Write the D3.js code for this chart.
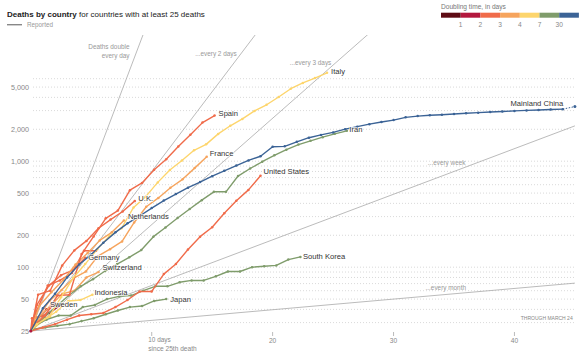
<!DOCTYPE html>
<html><head><meta charset="utf-8">
<script src="https://cdn.jsdelivr.net/npm/d3@7"></script>
<style>
body{margin:0;background:#fff;}
svg{display:block;font-family:"Liberation Sans",Arial,Helvetica,sans-serif;}
</style></head><body>
<svg id="c" width="584" height="360"></svg>
<script>
// ---------------- DATA ----------------
const legendBinLabels = ["1","2","3","4","7","30"];
const yTickValues = [25,50,100,200,500,1000,2000,5000];
const gridValues = [30,40,50,60,70,80,90,100,200,300,400,500,600,700,800,900,1000,2000,3000,4000,5000,6000];
const xTickValues = [10,20,30,40];
const refDoublingDays = [1,2,3,7,30];

const chinaDeaths = [25,41,56,80,106,132,170,213,259,304,361,425,490,563,636,722,811,908,1016,1113,1368,1380,1523,1665,1770,1868,2004,2118,2236,2345,2442,2592,2663,2715,2744,2788,2835,2870,2912,2943,2981,3012,3042,3070,3097];
const chinaLatest = 3277;
const italyDeaths = [29,34,52,79,107,148,197,233,366,463,631,827,1016,1266,1441,1809,2158,2503,2978,3405,4032,4825,5476,6077,6820];
const spainDeaths = [28,35,54,55,133,195,289,342,533,623,830,1043,1375,1772,2311,2696];
const iranDeaths = [26,34,43,54,66,77,92,107,124,145,194,237,291,354,429,514,514,724,853,988,1135,1284,1433,1556,1685,1812,1934];
const franceDeaths = [33,48,61,79,91,127,148,175,264,372,450,562,674,860,1100];
const usDeaths = [27,29,32,35,36,37,42,49,59,59,86,107,147,194,238,323,423,536,728];
const koreaDeaths = [28,32,35,35,42,44,50,53,54,60,66,66,72,75,75,82,91,91,100,102,104,118,125];
const ukDeaths = [55,60,104,144,177,233,281,335,422];
const netherlandsDeaths = [43,58,76,106,136,179,213,276];
const germanyDeaths = [44,67,84,94,123];
const switzerlandDeaths = [33,43,56,60,80,90];
const japanDeaths = [26,27,28,29,31,33,36,39,42,43,48,50];
const indonesiaDeaths = [32,38,48,49,55];
const swedenDeaths = [30,40];
const belgiumDeaths = [37,67,75,88,143,143];
const turkeyDeaths = [30,37,44];
const brazilDeaths = [34,46];
const philippinesDeaths = [33,35];
const portugalDeaths = [33];
const denmarkDeaths = [32,34];

const countryNames = ["Belgium","Turkey","Brazil","Philippines","Portugal","Denmark",
  "Sweden","Indonesia","Japan","Switzerland","Germany","Netherlands","U.K.","South Korea",
  "United States","France","Iran","Spain","Italy","Mainland China"];
const countryStart = [0.4,0.5,1,0.1,0.3,0.6, 0.3,1.1,0.2,0.6,0.5,0.7,0.6,0.3, 1,0.55,0.14,0.2,0.5,0];
const countryBin = [2,1,2,2,3,4, 1,4,5,3,2,3,2,5, 2,3,5,2,4,6];
const countryDeaths = [belgiumDeaths,turkeyDeaths,brazilDeaths,philippinesDeaths,portugalDeaths,denmarkDeaths,
  swedenDeaths,indonesiaDeaths,japanDeaths,switzerlandDeaths,germanyDeaths,netherlandsDeaths,ukDeaths,koreaDeaths,
  usDeaths,franceDeaths,iranDeaths,spainDeaths,italyDeaths,chinaDeaths];
const labelledCountries = ["Sweden","Indonesia","Japan","Switzerland","Germany","Netherlands","U.K.","South Korea","United States","France","Iran","Spain","Italy","Mainland China"];

// ---------------- STYLE / LAYOUT ----------------
const binColors = ["#5e0b14","#b3183e","#f06b4a","#f6a45d","#fdd56c","#7f9c6b","#3b6396"];
const labelOffsets = {
  "Mainland China":{dx:0.5,dy:-5.9,anchor:"end"},
  "Italy":{dx:4,dy:-1,anchor:"start"},
  "Iran":{dx:2.5,dy:-1.5,anchor:"start"},
  "Spain":{dx:4,dy:-2,anchor:"start"},
  "France":{dx:3,dy:-3.4,anchor:"start"},
  "United States":{dx:3,dy:-4,anchor:"start"},
  "South Korea":{dx:2.5,dy:-1,anchor:"start"},
  "Japan":{dx:4,dy:0,anchor:"start"},
  "U.K.":{dx:3.5,dy:-3,anchor:"start"},
  "Netherlands":{dx:4,dy:-4,anchor:"start"},
  "Germany":{dx:3,dy:0,anchor:"start"},
  "Switzerland":{dx:4,dy:-5,anchor:"start"},
  "Indonesia":{dx:2,dy:-2,anchor:"start"},
  "Sweden":{dx:3.5,dy:-5,anchor:"start"}
};

const svg = d3.select("#c");
const x = d3.scaleLinear().domain([0,45]).range([30.8,574.9]);
const y = d3.scaleLog().domain([25,10000]).range([331,331-106*Math.log10(400)]);

// grid
svg.append("g").selectAll("line").data(gridValues).join("line")
  .attr("x1",33).attr("x2",575)
  .attr("y1",d=>y(d)).attr("y2",d=>y(d))
  .attr("stroke","#cfcfcf").attr("stroke-width",0.8).attr("stroke-dasharray","1,2");

// y labels
svg.append("g").selectAll("text").data(yTickValues).join("text")
  .attr("x",29).attr("y",d=>y(d)).attr("dy","0.35em")
  .attr("text-anchor","end").attr("font-size",7.2).attr("fill","#888")
  .text(d=>d3.format(",")(d));

// x axis ticks
const xg = svg.append("g");
xg.selectAll("line").data(xTickValues).join("line")
  .attr("x1",d=>x(d)).attr("x2",d=>x(d)).attr("y1",332).attr("y2",336)
  .attr("stroke","#aaa").attr("stroke-width",0.8);
xg.selectAll("text.num").data(xTickValues.filter(d=>d!==10)).join("text").attr("class","num")
  .attr("x",d=>x(d)).attr("y",343).attr("text-anchor","middle")
  .attr("font-size",6.6).attr("fill","#888").text(d=>d);
xg.append("text").attr("x",x(10)-3.4).attr("y",342).attr("font-size",6.4).attr("fill","#888").text(xTickValues[0]+" days");
xg.append("text").attr("x",x(10)-3.4).attr("y",350.6).attr("font-size",6.6).attr("fill","#888").text("since 25th death");

// clip
svg.append("clipPath").attr("id","clip").append("rect")
  .attr("x",30).attr("y",35).attr("width",546).attr("height",300);

// reference lines
const refG = svg.append("g").attr("clip-path","url(#clip)");
refG.selectAll("line").data(refDoublingDays).join("line")
  .attr("x1",x(0)).attr("y1",y(25))
  .attr("x2",d=>x(45)).attr("y2",d=>y(25*Math.pow(2,45/d)))
  .attr("stroke","#a9a9a9").attr("stroke-width",0.8);

const refText = [
  {t:"Deaths double",xd:8.2,v:25*Math.pow(2,8.2),dx:0,yy:48.6},
  {t:"every day",xd:8.2,v:0,dx:0,yy:57.6},
  {t:"...every 2 days",xd:0,v:0,xx:236.7,yy:56.3},
  {t:"...every 3 days",xd:0,v:0,xx:331.3,yy:64.6},
  {t:"...every week",xd:0,v:0,xx:465.5,yy:165},
  {t:"...every month",xd:0,v:0,xx:466,yy:290.3}
];
svg.append("g").selectAll("text").data(refText).join("text")
  .attr("x",d=>d.xx!==undefined?d.xx:129.5).attr("y",d=>d.yy)
  .attr("text-anchor","end").attr("font-size",6.4).attr("fill","#999").text(d=>d.t);

// series
const series = countryNames.map((n,i)=>{
  const pts = [{d:0,v:25}].concat(countryDeaths[i].map((v,j)=>({d:countryStart[i]+j,v})));
  return {name:n,color:binColors[countryBin[i]],pts};
});
const line = d3.line().x(p=>x(p.d)).y(p=>y(p.v));
const sg = svg.append("g");
series.forEach(s=>{
  sg.append("path").attr("d",line(s.pts)).attr("fill","none")
    .attr("stroke",s.color).attr("stroke-width",1.4).attr("stroke-linejoin","round");
  sg.append("g").selectAll("circle").data(s.pts.slice(1)).join("circle")
    .attr("cx",p=>x(p.d)).attr("cy",p=>y(p.v)).attr("r",1.25).attr("fill",s.color);
});
// China latest (dotted)
const chinaS = series.find(s=>s.name==="Mainland China");
const lastC = chinaS.pts[chinaS.pts.length-1];
sg.append("line").attr("x1",x(lastC.d)).attr("y1",y(lastC.v)).attr("x2",x(45)).attr("y2",y(chinaLatest))
  .attr("stroke",chinaS.color).attr("stroke-width",1).attr("stroke-dasharray","1.5,1.5");
sg.append("circle").attr("cx",x(45)).attr("cy",y(chinaLatest)).attr("r",1.5).attr("fill",chinaS.color);
// origin dot
sg.append("circle").attr("cx",x(0)).attr("cy",y(25)).attr("r",1.6).attr("fill",binColors[1]);

// labels
const lg = svg.append("g");
series.filter(s=>labelledCountries.includes(s.name)).forEach(s=>{
  const e = s.pts[s.pts.length-1], o = labelOffsets[s.name];
  lg.append("text").attr("x",x(e.d)+o.dx).attr("y",y(e.v)+o.dy).attr("dy","0.35em")
    .attr("text-anchor",o.anchor).attr("font-size",7.6).attr("fill","#333")
    .attr("stroke","#fff").attr("stroke-width",1.6).attr("stroke-opacity",0.8).attr("paint-order","stroke")
    .text(s.name);
});

// through march
svg.append("text").attr("x",572.7).attr("y",319.5).attr("text-anchor","end")
  .attr("font-size",5).attr("fill","#888").text("THROUGH MARCH 24");

// title
const title = svg.append("text").attr("x",7).attr("y",16.7).attr("font-size",8).attr("fill","#222");
title.append("tspan").attr("font-weight","bold").text("Deaths by country");
title.append("tspan").text(" for countries with at least 25 deaths");
svg.append("line").attr("x1",7).attr("x2",22).attr("y1",24.7).attr("y2",24.7).attr("stroke","#888").attr("stroke-width",1.4);
svg.append("text").attr("x",27).attr("y",27).attr("font-size",6.3).attr("fill","#999").text("Reported");

// doubling legend
const lgd = svg.append("g");
lgd.append("text").attr("x",441).attr("y",9.4).attr("font-size",6.6).attr("fill","#777").text("Doubling time, in days");
lgd.selectAll("rect").data(binColors).join("rect")
  .attr("x",(d,i)=>441+i*19.7).attr("y",12.7).attr("width",19.7).attr("height",5).attr("fill",d=>d);
lgd.selectAll("text.b").data(legendBinLabels).join("text").attr("class","b")
  .attr("x",(d,i)=>441+(i+1)*19.7).attr("y",26.6).attr("text-anchor","middle")
  .attr("font-size",6.6).attr("fill","#888").text(d=>d);
</script>
</body></html>
